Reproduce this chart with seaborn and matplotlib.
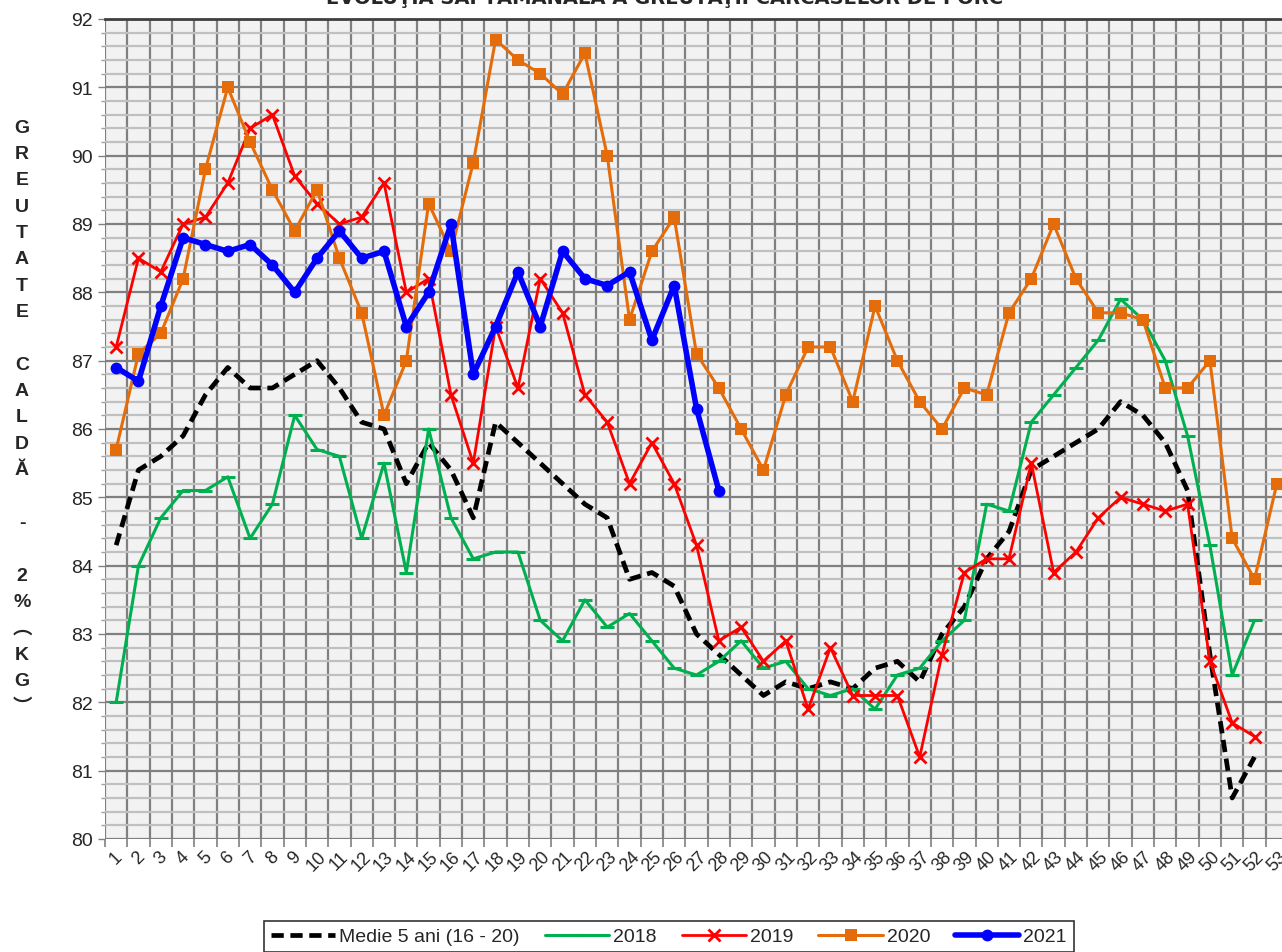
import numpy as np
import pandas as pd
import seaborn as sns
from matplotlib import pyplot as plt
from matplotlib.ticker import MultipleLocator, FixedLocator

weeks = list(range(1, 54))

medie = [84.3, 85.4, 85.6, 85.9, 86.5, 86.9, 86.6, 86.6, 86.8, 87.0,
         86.6, 86.1, 86.0, 85.2, 85.8, 85.4, 84.7, 86.1, 85.8, 85.5,
         85.2, 84.9, 84.7, 83.8, 83.9, 83.7, 83.0, 82.7, 82.4, 82.1,
         82.3, 82.2, 82.3, 82.2, 82.5, 82.6, 82.3, 83.0, 83.4, 84.1,
         84.5, 85.4, 85.6, 85.8, 86.0, 86.4, 86.2, 85.8, 85.1, 82.7,
         80.6, 81.2]
y2018 = [82.0, 84.0, 84.7, 85.1, 85.1, 85.3, 84.4, 84.9, 86.2, 85.7,
         85.6, 84.4, 85.5, 83.9, 86.0, 84.7, 84.1, 84.2, 84.2, 83.2,
         82.9, 83.5, 83.1, 83.3, 82.9, 82.5, 82.4, 82.6, 82.9, 82.5,
         82.6, 82.2, 82.1, 82.2, 81.9, 82.4, 82.5, 82.9, 83.2, 84.9,
         84.8, 86.1, 86.5, 86.9, 87.3, 87.9, 87.6, 87.0, 85.9, 84.3,
         82.4, 83.2]
y2019 = [87.2, 88.5, 88.3, 89.0, 89.1, 89.6, 90.4, 90.6, 89.7, 89.3,
         89.0, 89.1, 89.6, 88.0, 88.2, 86.5, 85.5, 87.5, 86.6, 88.2,
         87.7, 86.5, 86.1, 85.2, 85.8, 85.2, 84.3, 82.9, 83.1, 82.6,
         82.9, 81.9, 82.8, 82.1, 82.1, 82.1, 81.2, 82.7, 83.9, 84.1,
         84.1, 85.5, 83.9, 84.2, 84.7, 85.0, 84.9, 84.8, 84.9, 82.6,
         81.7, 81.5]
y2020 = [85.7, 87.1, 87.4, 88.2, 89.8, 91.0, 90.2, 89.5, 88.9, 89.5,
         88.5, 87.7, 86.2, 87.0, 89.3, 88.6, 89.9, 91.7, 91.4, 91.2,
         90.9, 91.5, 90.0, 87.6, 88.6, 89.1, 87.1, 86.6, 86.0, 85.4,
         86.5, 87.2, 87.2, 86.4, 87.8, 87.0, 86.4, 86.0, 86.6, 86.5,
         87.7, 88.2, 89.0, 88.2, 87.7, 87.7, 87.6, 86.6, 86.6, 87.0,
         84.4, 83.8, 85.2]
y2021 = [86.9, 86.7, 87.8, 88.8, 88.7, 88.6, 88.7, 88.4, 88.0, 88.5,
         88.9, 88.5, 88.6, 87.5, 88.0, 89.0, 86.8, 87.5, 88.3, 87.5,
         88.6, 88.2, 88.1, 88.3, 87.3, 88.1, 86.3, 85.1]

title = 'EVOLUŢIA SĂPTĂMÂNALĂ A GREUTĂŢII CARCASELOR DE PORC'
ylabel_chars = list('GREUTATE') + [''] + list('CALDĂ') + ['', '-', ''] + \
    ['2', '%', '︵', 'K', 'G', '︶']

sns.set_style('white')
plt.rcParams['font.family'] = ['Liberation Sans', 'Noto Sans CJK SC', 'DejaVu Sans']

fig = plt.figure(figsize=(12.82, 9.53), dpi=100)
ax = fig.add_axes([105 / 1282, 1 - 840 / 953, 1183 / 1282, 820 / 953])
ax.set_facecolor('#f2f2f2')

series = [
    ('Medie 5 ani (16 - 20)', medie, dict(color='black', lw=3.4, ls=(0, (2.6, 1.4)), marker=None)),
    ('2018', y2018, dict(color='#00b050', lw=2.2, marker='_', ms=10, mew=2.2)),
    ('2019', y2019, dict(color='#ff0000', lw=2.0, marker='x', ms=9, mew=2.0)),
    ('2020', y2020, dict(color='#e46c0a', lw=2.2, marker='s', ms=8.5)),
    ('2021', y2021, dict(color='#0000ff', lw=4.0, marker='o', ms=8.5)),
]
for name, vals, st in series:
    df = pd.DataFrame({'week': weeks[:len(vals)], 'val': vals})
    sns.lineplot(data=df, x='week', y='val', ax=ax, label=name, color=st['color'],
                 linewidth=st['lw'], linestyle=st.get('ls', '-'), marker=st['marker'],
                 markersize=st.get('ms', 0), markeredgewidth=st.get('mew', 0),
                 markeredgecolor=st['color'], zorder=3)

ax.set_xlim(0.5, 53.5)
ax.set_ylim(80, 92)
ax.xaxis.set_major_locator(FixedLocator(weeks))
ax.set_xticklabels([str(w) for w in weeks], rotation=45, fontsize=13)
ax.xaxis.set_minor_locator(FixedLocator([w + 0.5 for w in range(0, 54)]))
ax.yaxis.set_major_locator(MultipleLocator(1))
ax.yaxis.set_minor_locator(MultipleLocator(0.2))
ax.tick_params(axis='x', which='major', length=0, pad=6)
ax.tick_params(axis='x', which='minor', length=6, width=1.2, color='#808080', bottom=True)
ax.tick_params(axis='y', which='major', length=5, width=1, color='#808080', labelsize=14, left=True)
ax.tick_params(axis='y', which='minor', length=3, width=1, color='#a0a0a0', left=True)
ax.grid(True, axis='x', which='minor', color='#808080', lw=1.6)
ax.grid(True, axis='y', which='minor', color='#c0c0c0', lw=1.6)
ax.grid(True, axis='y', which='major', color='#808080', lw=1.6)
ax.set_axisbelow(True)
ax.set_xlabel('')
ax.set_ylabel('')
for side in ['left', 'bottom', 'right']:
    ax.spines[side].set_visible(False)
ax.spines['top'].set_color('#404040')
ax.spines['top'].set_linewidth(2)

fig.text(665 / 1282, 1 - 4 / 953, title, ha='center', va='baseline',
         fontsize=14, fontweight='bold', family=['DejaVu Sans'])
fig.text(22 / 1282, 1 - 418 / 953, '\n'.join(ylabel_chars), ha='center', va='center',
         fontsize=14, fontweight='bold', linespacing=1.72)

ax.get_legend().remove()
handles, labels = ax.get_legend_handles_labels()
leg = fig.legend(handles, labels, loc='upper center', ncol=5,
                 bbox_to_anchor=(669 / 1282, 1 - 922 / 953), fontsize=14,
                 frameon=True, fancybox=False, edgecolor='black',
                 handlelength=3.3, columnspacing=1.3, handletextpad=0.2,
                 borderpad=0.35, borderaxespad=0)
leg.get_frame().set_linewidth(1.2)

plt.savefig('out.png', dpi=100)
